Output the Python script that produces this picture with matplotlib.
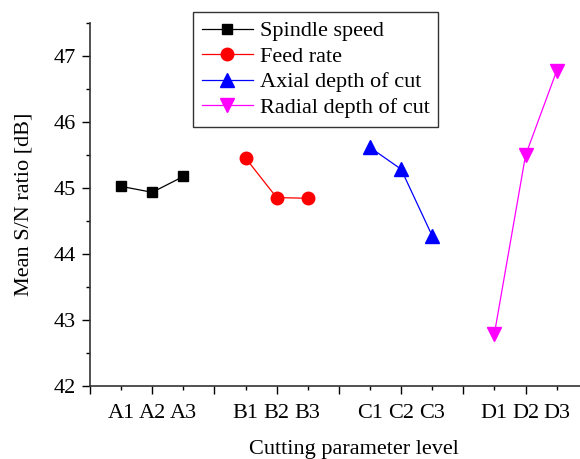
import matplotlib
matplotlib.use("Agg")
import matplotlib.pyplot as plt
from matplotlib.ticker import MultipleLocator

# factor names and level labels
factors = ["Spindle speed", "Feed rate", "Axial depth of cut", "Radial depth of cut"]
group_letters = ["A", "B", "C", "D"]
levels = [1, 2, 3]

# mean S/N ratio per level [dB]
spindle_speed = [45.02, 44.93, 45.17]
feed_rate = [45.45, 44.85, 44.84]
axial_depth = [45.61, 45.28, 44.27]
radial_depth = [42.79, 45.49, 46.77]

series = [spindle_speed, feed_rate, axial_depth, radial_depth]
colors = ["black", "red", "blue", "magenta"]
markers = ["s", "o", "^", "v"]
msizes = [7.5, 9, 9.5, 9.5]

plt.rcParams["font.family"] = ["Liberation Serif", "DejaVu Serif"]
plt.rcParams["font.size"] = 16

XMAX = 17
fig = plt.figure(figsize=(5.8, 4.59), dpi=100)
ax = fig.add_axes([90 / 580, 1 - 385.7 / 459, XMAX * 31.11 / 580, (385.7 - 22.7) / 459])

label_pos = {}
for g, (vals, name, c, m, ms) in enumerate(zip(series, factors, colors, markers, msizes)):
    xs = [g * 4 + lv for lv in levels]
    for x, lv in zip(xs, levels):
        label_pos[x] = f"{group_letters[g]}{lv}"
    ax.plot(xs, vals, color=c, marker=m, markersize=ms, linewidth=0.9,
            markeredgecolor=c, markerfacecolor=c, label=name)

ax.set_xlim(0, XMAX)
ax.set_ylim(42, 47.5)

# major ticks on even positions, minor ticks on odd positions
major_x = list(range(0, XMAX + 1, 2))
minor_x = list(range(1, XMAX + 1, 2))
ax.set_xticks(major_x, [label_pos.get(x, "") for x in major_x])
ax.set_xticks(minor_x, [label_pos.get(x, "") for x in minor_x], minor=True)
ax.yaxis.set_major_locator(MultipleLocator(1))
ax.yaxis.set_minor_locator(MultipleLocator(0.5))

ax.tick_params(axis="both", which="major", direction="out", length=6, width=1)
ax.tick_params(axis="x", which="major", pad=7.5)
ax.tick_params(axis="x", which="minor", direction="out", length=3, width=1, pad=10.5,
               labelsize=16)
ax.tick_params(axis="y", which="minor", direction="out", length=3, width=1)
ax.tick_params(axis="y", which="major", pad=4)

for side in ["top", "right"]:
    ax.spines[side].set_visible(False)
for side in ["left", "bottom"]:
    ax.spines[side].set_linewidth(1.2)
    ax.spines[side].set_color("#333333")

ax.set_xlabel("Cutting parameter level", labelpad=12)
ax.set_ylabel("Mean S/N ratio [dB]", labelpad=15)

leg = fig.legend(loc="upper left", bbox_to_anchor=(193 / 580, 1 - 12 / 459),
                 frameon=True, fancybox=False, edgecolor="black",
                 handlelength=2.3, handletextpad=0.3, labelspacing=0.22,
                 borderpad=0.4, borderaxespad=0, fontsize=16)
leg.get_frame().set_linewidth(1)

fig.savefig("out.png", dpi=100)
